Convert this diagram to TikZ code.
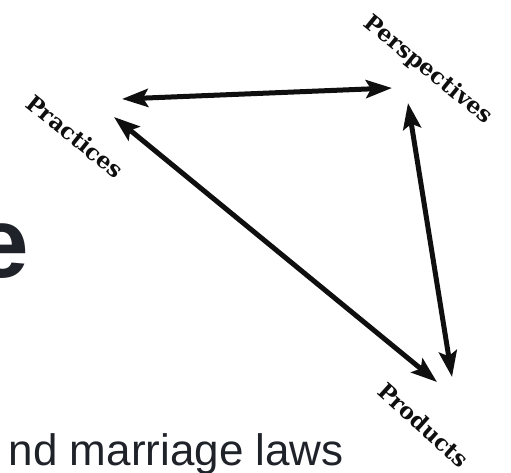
\documentclass[tikz,border=0pt]{standalone}
\usepackage{fontspec}
\setmainfont{Liberation Serif}
\newfontfamily\slidefont{Liberation Sans}
\newfontfamily\labelfont{DejaVu Serif}
\usetikzlibrary{arrows.meta, positioning, calc}
\definecolor{colT}{RGB}{31, 35, 41}
\definecolor{colA}{RGB}{15, 15, 15}

\begin{document}
\begin{tikzpicture}[x=1pt, y=-1pt,
    lbl/.style={anchor=base, font=\labelfont\bfseries\fontsize{22.5}{22.5}\selectfont, text=colA, inner sep=0pt},
    link/.style={line width=5pt, draw=colA, {Stealth[length=26pt, width=18pt, inset=5pt]}-{Stealth[length=26pt, width=18pt, inset=5pt]}}]
    \useasboundingbox (0, 0) rectangle (511, 473);
    \clip (0, 0) rectangle (511, 473);

    % --- Teks slide di belakang ---
    \node[anchor=base east, inner sep=0pt, text=colT, font=\slidefont\bfseries\fontsize{100}{100}\selectfont] (bigE) at (29, 277) {e};
    \node[anchor=base east, inner sep=0pt, text=colT, font=\slidefont\fontsize{44}{44}\selectfont] (laws) at (344, 465) {nd marriage laws};

    % --- Label sudut ---
    \node[lbl, rotate=-39] (prac) at (70, 143) {Practices};
    \node[lbl, rotate=-39] (pers) at (424, 75) {Perspectives};
    \node[lbl, rotate=-42] (prod) at (418, 431) {Products};

    % Ujung panah
    \coordinate (pracA) at (122, 99);
    \coordinate (pracB) at (114, 117);
    \coordinate (persA) at (392, 88);
    \coordinate (persB) at (408, 103);
    \coordinate (prodA) at (437, 382);
    \coordinate (prodB) at (452, 377);

    % --- Panah dua arah ---
    \draw[link] (pracA) -- (persA);
    \draw[link] (pracB) -- (prodA);
    \draw[link] (persB) -- (prodB);
\end{tikzpicture}
\end{document}
